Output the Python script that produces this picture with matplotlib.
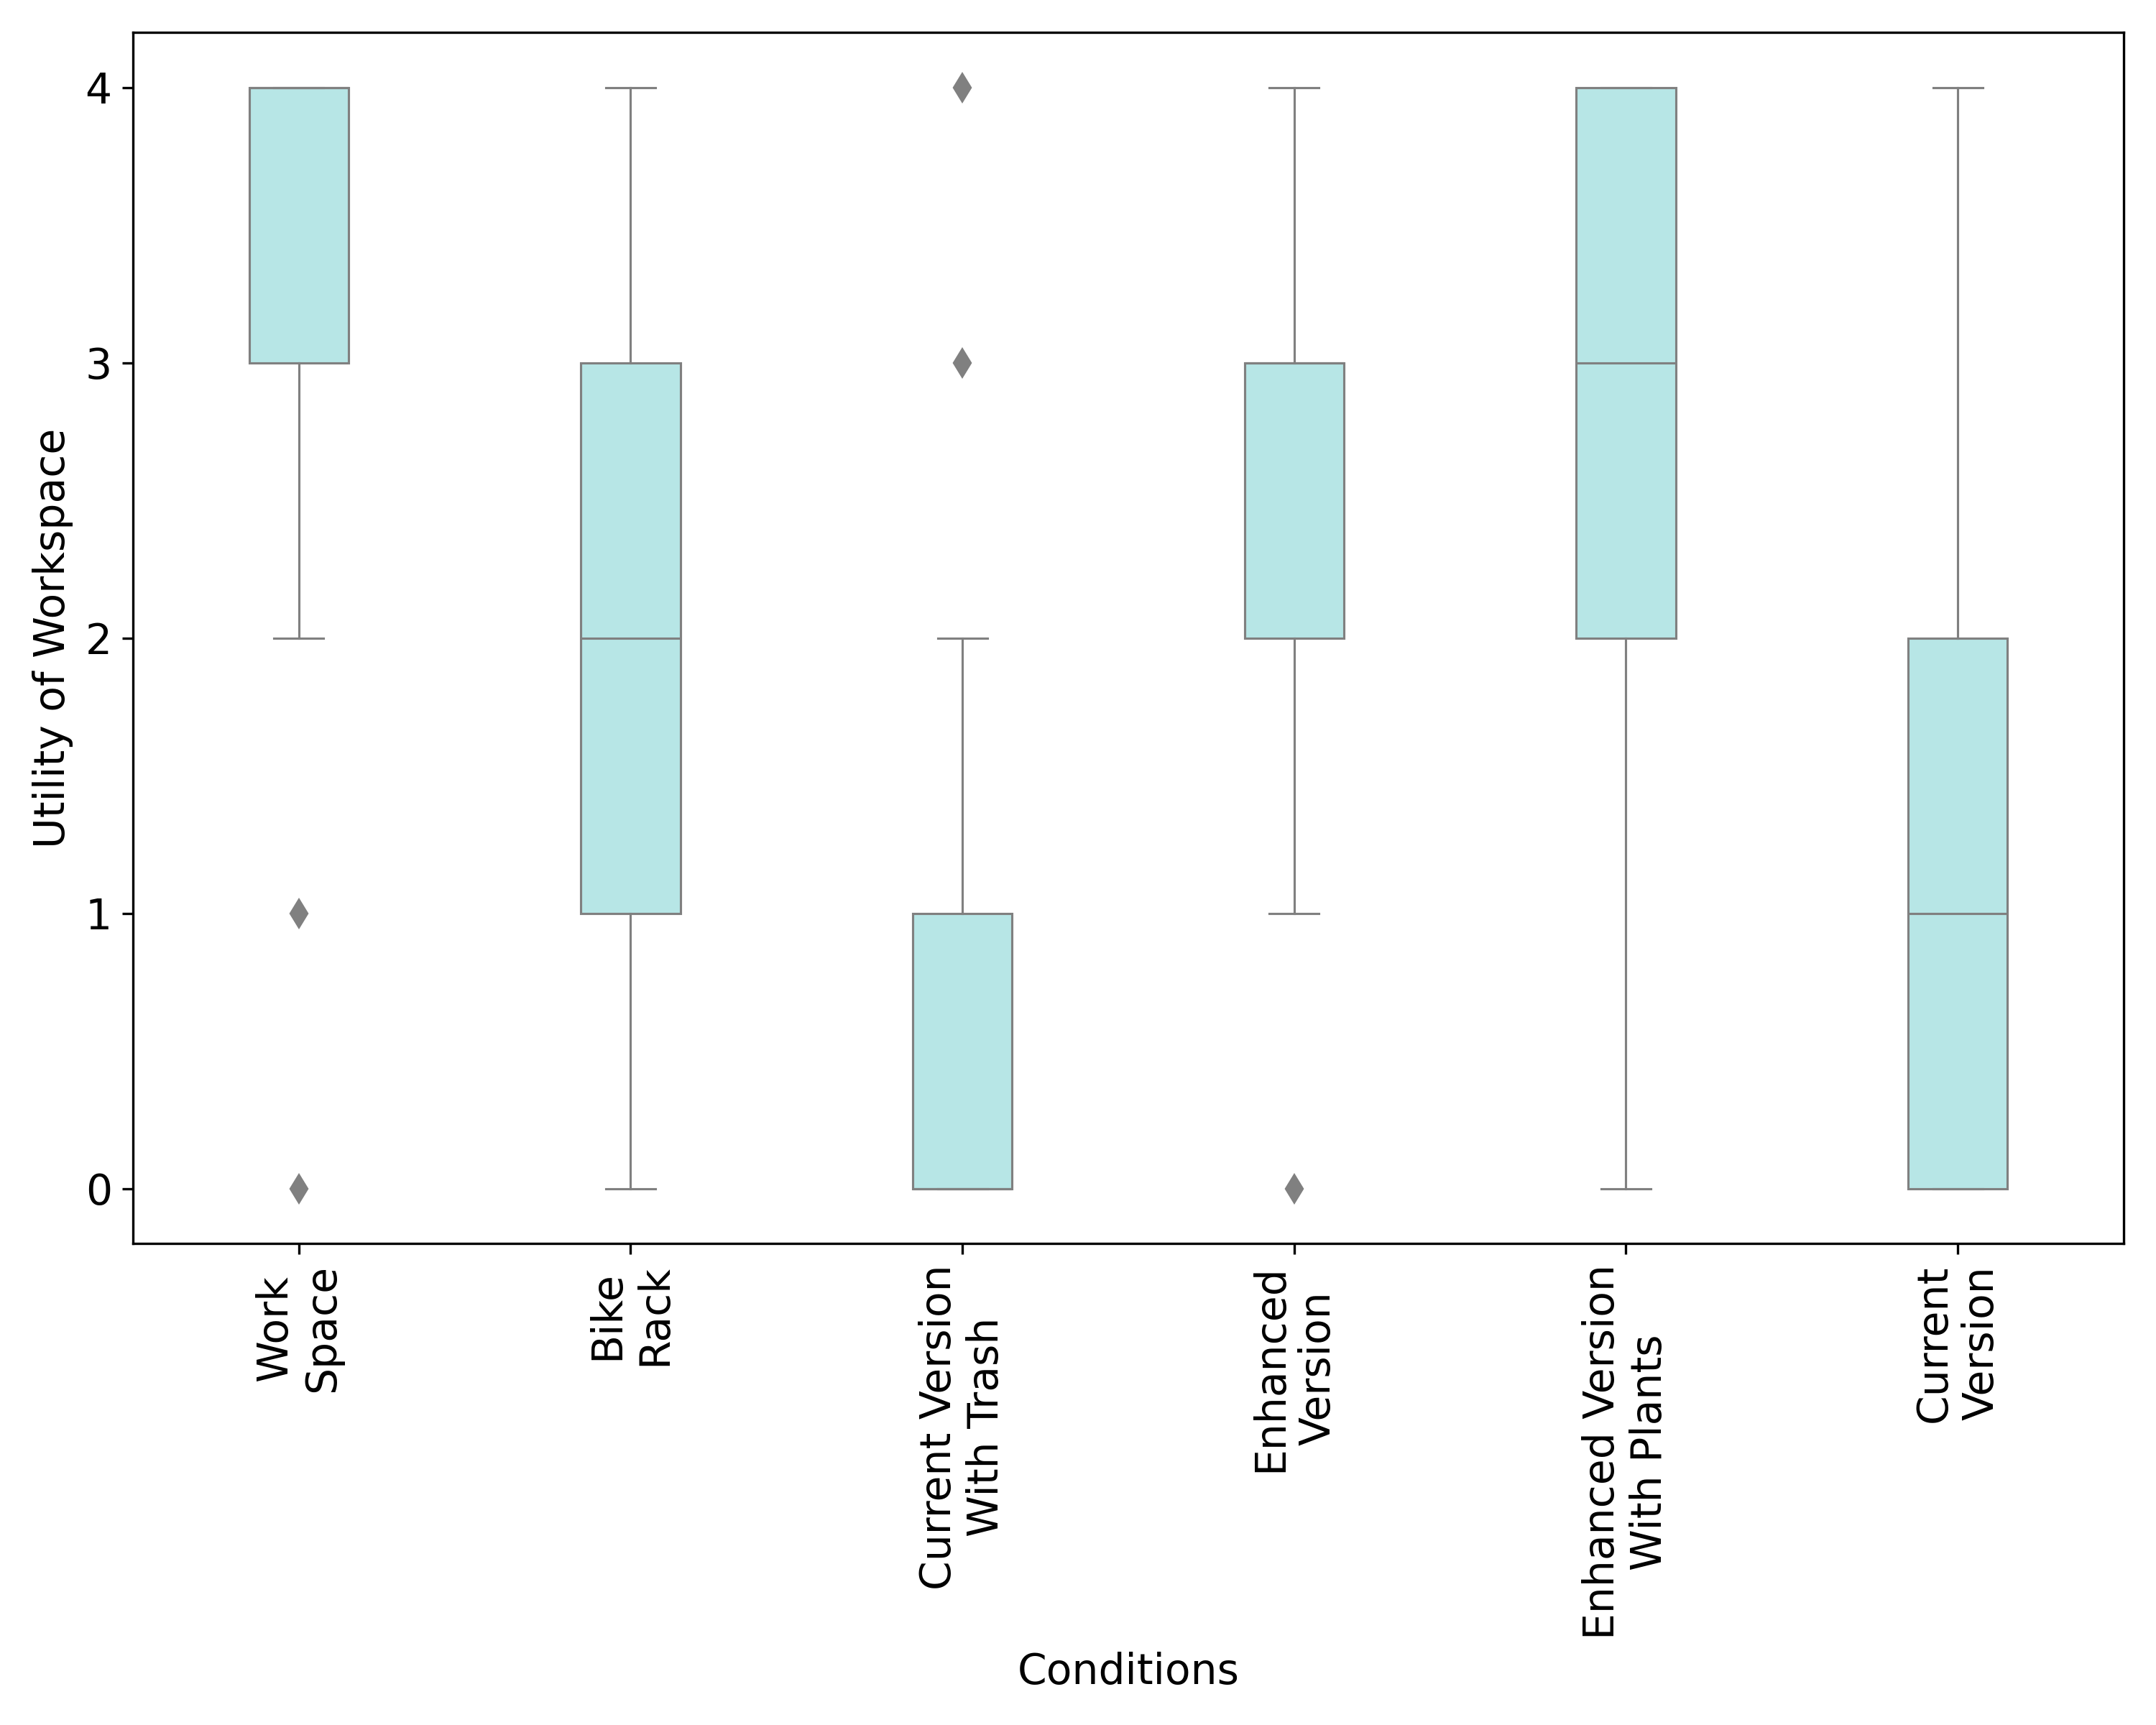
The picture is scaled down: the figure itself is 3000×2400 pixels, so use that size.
import matplotlib
matplotlib.use("Agg")
import matplotlib.pyplot as plt

categories = ["Work\nSpace", "Bike\nRack", "Current Version\nWith Trash",
              "Enhanced\nVersion", "Enhanced Version\nWith Plants", "Current\nVersion"]
q1 = [3, 1, 0, 2, 2, 0]
med = [4, 2, 0, 3, 3, 1]
q3 = [4, 3, 1, 3, 4, 2]
whislo = [2, 0, 0, 1, 0, 0]
whishi = [4, 4, 2, 4, 4, 4]
fliers = [[1, 0], [], [4, 3], [0], [], []]

stats = []
for i, lab in enumerate(categories):
    stats.append(dict(label=lab, q1=q1[i], med=med[i], q3=q3[i],
                      whislo=whislo[i], whishi=whishi[i], fliers=fliers[i]))

fig, ax = plt.subplots(figsize=(10, 8), dpi=300)
gray = "#808080"
fill = "#b7e6e6"
lw = 0.75
ax.bxp(stats, positions=range(len(categories)), widths=0.3, patch_artist=True,
       showcaps=True,
       boxprops=dict(facecolor=fill, edgecolor=gray, linewidth=lw),
       whiskerprops=dict(color=gray, linewidth=lw),
       capprops=dict(color=gray, linewidth=lw),
       medianprops=dict(color=gray, linewidth=lw),
       flierprops=dict(marker="d", markerfacecolor=gray, markeredgecolor=gray,
                       markersize=6, linestyle="none"))
ax.set_xlim(-0.5, len(categories) - 0.5)
ax.set_ylim(-0.2, 4.2)
ax.set_yticks([0, 1, 2, 3, 4])
ax.set_xticks(range(len(categories)))
ax.set_xticklabels(categories, rotation=90, fontsize=14, ha="center")
ax.tick_params(axis="y", labelsize=14)
ax.set_xlabel("Conditions", fontsize=14)
ax.set_ylabel("Utility of Workspace", fontsize=14)
fig.tight_layout()
fig.savefig("out.png", dpi=300)
